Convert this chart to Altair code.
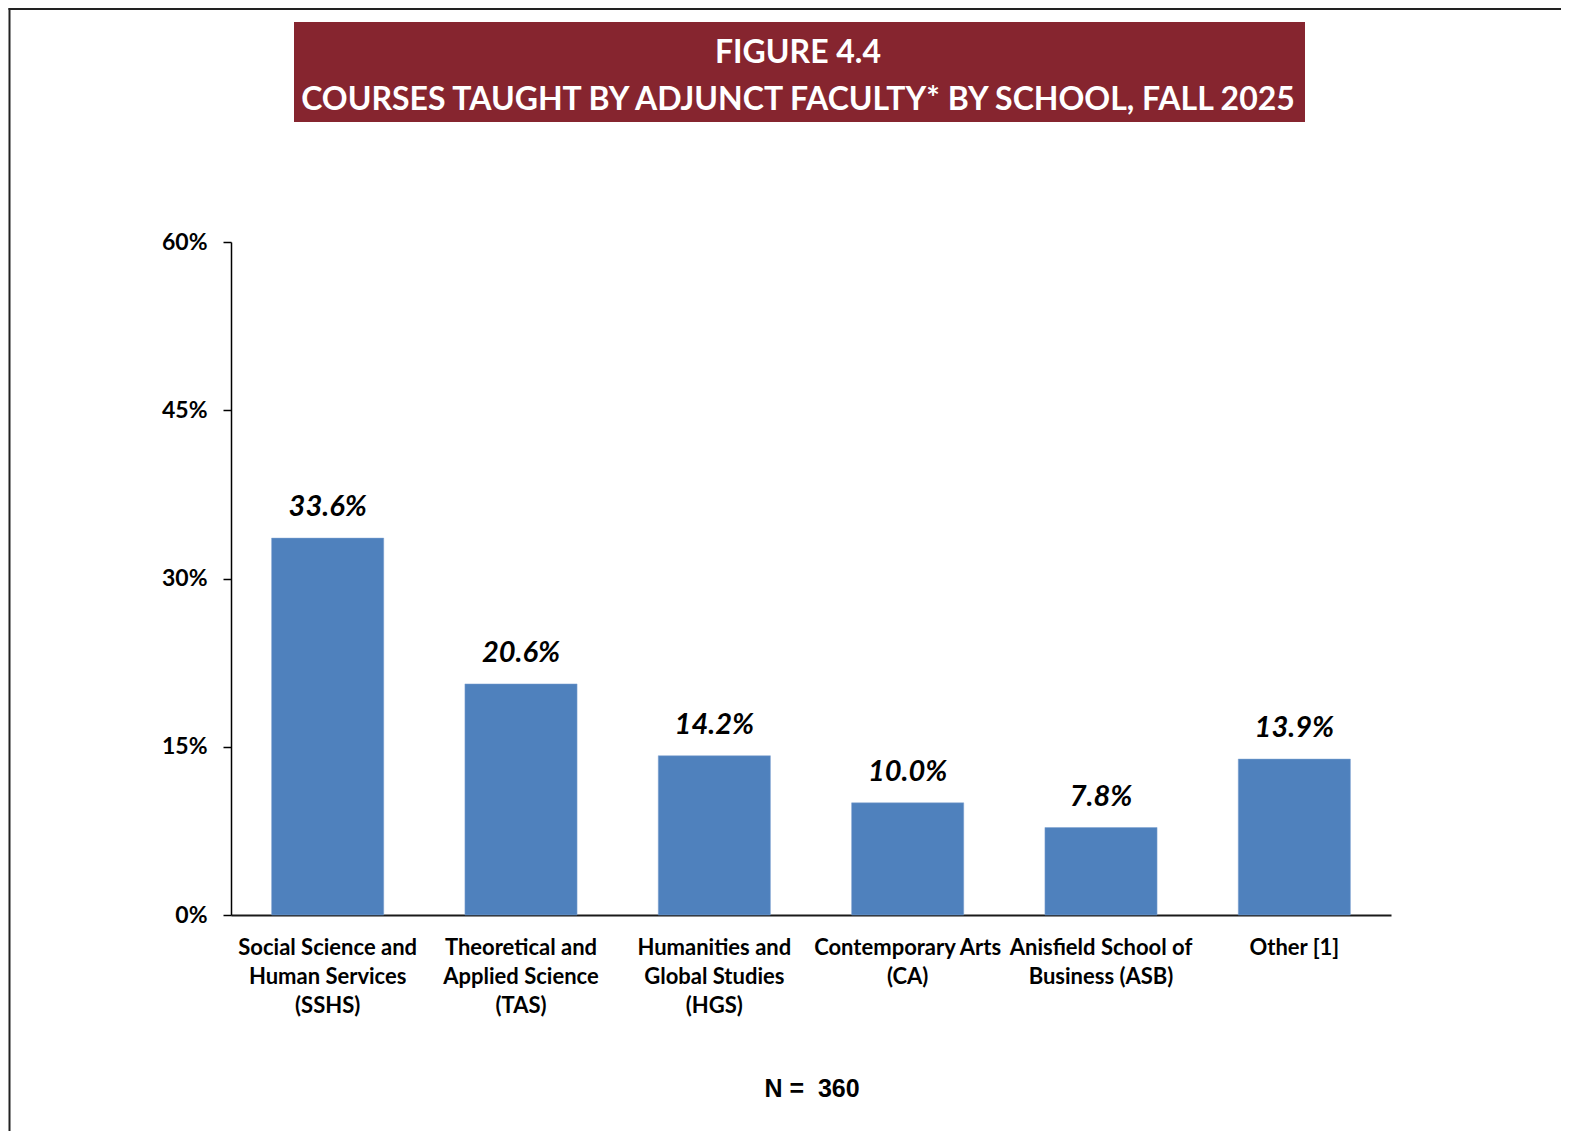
import altair as alt
import pandas as pd

schools = [
    "Social Science and\nHuman Services\n(SSHS)",
    "Theoretical and\nApplied Science\n(TAS)",
    "Humanities and\nGlobal Studies\n(HGS)",
    "Contemporary Arts\n(CA)",
    "Anisfield School of\nBusiness (ASB)",
    "Other [1]",
]
shares = [33.6, 20.6, 14.2, 10.0, 7.8, 13.9]
y_ticks = [0, 15, 30, 45, 60]
title_lines = ["FIGURE 4.4", "COURSES TAUGHT BY ADJUNCT FACULTY* BY SCHOOL, FALL 2025"]
n_note = "N = \u00a0360"

df = pd.DataFrame({"school": schools, "share": shares})

W, H = 1160, 673
FONT = "Lato"
BAR = "#4F81BD"
MAROON = "#86252F"

x_enc = alt.X(
    "school:N",
    sort=schools,
    scale=alt.Scale(paddingInner=0.42, paddingOuter=0.21),
    axis=alt.Axis(
        title=None,
        labelAngle=0,
        labelExpr="split(datum.label, '\\n')",
        labelFont=FONT,
        labelFontWeight="bold",
        labelFontSize=22,
        labelColor="black",
        labelLineHeight=29,
        labelBaseline="top",
        labelPadding=22,
        labelOverlap=False,
        labelLimit=0,
        ticks=False,
        domainColor="#1a1a1a",
        domainWidth=2,
    ),
)
y_enc = alt.Y(
    "share:Q",
    scale=alt.Scale(domain=[0, 60], nice=False),
    axis=alt.Axis(
        title=None,
        values=y_ticks,
        labelExpr="datum.value + '%'",
        labelFont=FONT,
        labelFontWeight="bold",
        labelFontSize=23,
        labelColor="black",
        labelPadding=16,
        tickSize=8,
        tickColor="black",
        tickWidth=1.5,
        domainColor="black",
        domainWidth=1.5,
        grid=False,
    ),
)

base = alt.Chart(df)
bars = base.mark_bar(color=BAR, stroke="#7fa3d0", strokeWidth=0.5).encode(x=x_enc, y=y_enc)
labels = base.mark_text(
    font=FONT, fontSize=29, fontWeight="bold", fontStyle="italic",
    color="black", baseline="alphabetic", dy=-22,
).transform_calculate(lbl="format(datum.share, '.1f') + '%'").encode(
    x=alt.X("school:N", sort=schools), y="share:Q", text="lbl:N"
)

deco = pd.DataFrame({"k": [0]})
title_box = alt.Chart(deco).mark_rect(color=MAROON).encode(
    x=alt.value(63), x2=alt.value(1074), y=alt.value(-220), y2=alt.value(-120)
)
title1 = alt.Chart(deco).mark_text(
    font=FONT, fontSize=32, fontWeight="bold", color="white", baseline="alphabetic", align="center"
).encode(x=alt.value(567), y=alt.value(-179), text=alt.value(title_lines[0]))
title2 = alt.Chart(deco).mark_text(
    font=FONT, fontSize=32, fontWeight="bold", color="white", baseline="alphabetic", align="center"
).encode(x=alt.value(567), y=alt.value(-132), text=alt.value(title_lines[1]))
note = alt.Chart(deco).mark_text(
    font="Liberation Sans", fontSize=25, fontWeight="bold", color="black",
    baseline="alphabetic", align="center"
).encode(x=alt.value(581), y=alt.value(855), text=alt.value(n_note))
border_left = alt.Chart(deco).mark_rule(color="#222222", strokeWidth=2).encode(
    x=alt.value(-221.5), y=alt.value(-234), y2=alt.value(920)
)
border_top = alt.Chart(deco).mark_rule(color="#222222", strokeWidth=2).encode(
    x=alt.value(-222.5), x2=alt.value(1400), y=alt.value(-233)
)

chart = alt.layer(
    border_left, border_top, title_box, title1, title2, bars, labels, note
).properties(
    width=W, height=H,
    background="white",
    autosize=alt.AutoSizeParams(type="none"),
    padding={"left": 223, "top": 234, "right": 170, "bottom": 216},
).configure_view(strokeWidth=0)

chart.save("out.html", embed_options={"renderer": "svg", "actions": False})
